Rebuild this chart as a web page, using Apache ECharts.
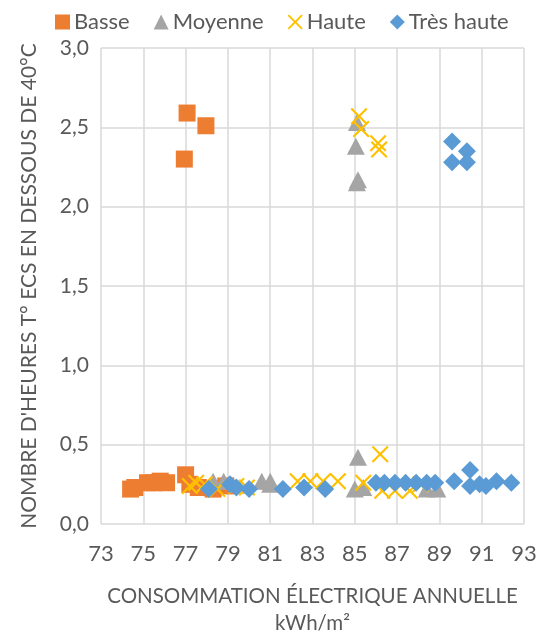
<!DOCTYPE html>
<html>
<head>
<meta charset="utf-8">
<script src="https://cdn.jsdelivr.net/npm/echarts@6/dist/echarts.min.js"></script>
<style>
  html, body { margin: 0; padding: 0; background: #ffffff; }
  #chart { width: 543px; height: 635px; }
</style>
</head>
<body>
<div id="chart"></div>
<script>
// Annual electricity use (kWh/m²) vs. hours of DHW below 40 °C, per occupancy level
const basse = [
  [77.07, 2.59], [77.96, 2.51], [76.94, 2.30],
  [74.40, 0.22], [74.60, 0.23], [75.20, 0.26], [75.50, 0.26], [75.80, 0.27],
  [76.10, 0.26], [77.00, 0.31], [77.20, 0.25], [77.60, 0.23], [78.30, 0.22],
  [78.90, 0.24]
];
const moyenne = [
  [85.10, 2.53], [85.05, 2.38], [85.15, 2.17], [85.10, 2.15], [85.15, 0.42],
  [78.30, 0.27], [78.80, 0.27], [80.60, 0.27], [81.00, 0.27], [81.00, 0.25],
  [85.00, 0.22], [85.40, 0.23], [88.40, 0.22], [88.90, 0.22]
];
const haute = [
  [85.20, 2.57], [85.30, 2.49], [86.10, 2.40], [86.15, 2.36], [86.20, 0.44],
  [77.20, 0.24], [77.50, 0.26], [77.90, 0.25], [78.50, 0.22], [79.40, 0.24],
  [79.90, 0.23], [82.30, 0.27], [82.90, 0.27], [83.50, 0.27], [84.20, 0.27],
  [85.40, 0.26], [86.30, 0.21], [86.90, 0.21], [87.60, 0.21], [88.10, 0.25]
];
const tresHaute = [
  [89.60, 2.41], [90.30, 2.35], [89.60, 2.28], [90.30, 2.28],
  [78.10, 0.22], [79.10, 0.25], [79.40, 0.23], [80.00, 0.22], [81.60, 0.22],
  [82.60, 0.23], [83.60, 0.22], [86.00, 0.26], [86.40, 0.26], [86.90, 0.26],
  [87.40, 0.26], [87.90, 0.26], [88.40, 0.26], [88.80, 0.26], [89.70, 0.27],
  [90.45, 0.34], [90.45, 0.24], [90.90, 0.25], [91.20, 0.24], [91.70, 0.27],
  [92.40, 0.26]
];
const xTicks = [73, 75, 77, 79, 81, 83, 85, 87, 89, 91, 93];

const TEXT = '#595959';
const GRID = '#d9d9d9';
const FONT = 'Lato';
const crossPath = 'path://M0,0.9L0.9,0L5,4.1L9.1,0L10,0.9L5.9,5L10,9.1L9.1,10L5,5.9L0.9,10L0,9.1L4.1,5Z';

const chart = echarts.init(document.getElementById('chart'), null, { renderer: 'canvas' });

chart.setOption({
  animation: false,
  backgroundColor: '#ffffff',
  textStyle: { fontFamily: FONT, color: TEXT },
  legend: {
    top: 6,
    left: 50,
    itemWidth: 15,
    itemHeight: 15,
    itemGap: 24,
    textStyle: { fontFamily: FONT, fontSize: 22, color: TEXT, padding: [0, 0, 0, -1] },
    data: [
      { name: 'Basse', icon: 'rect' },
      { name: 'Moyenne', icon: 'triangle' },
      { name: 'Haute', icon: crossPath },
      { name: 'Très haute', icon: 'diamond' }
    ]
  },
  grid: { left: 101, right: 19, top: 48, bottom: 111, outerBoundsMode: 'none', containLabel: false },
  xAxis: {
    type: 'value',
    min: 73,
    max: 93,
    interval: 1,
    name: 'CONSOMMATION ÉLECTRIQUE ANNUELLE\nkWh/m²',
    nameLocation: 'middle',
    nameGap: 59,
    nameTextStyle: { fontFamily: FONT, fontSize: 20.5, color: TEXT, lineHeight: 27, verticalAlign: 'top' },
    axisLine: { show: false },
    axisTick: { show: false },
    splitLine: { show: false },
    axisLabel: {
      margin: 19,
      fontFamily: FONT, fontSize: 22, color: TEXT,
      formatter: v => xTicks.indexOf(v) >= 0 ? String(v) : ''
    }
  },
  yAxis: {
    type: 'value',
    min: 0,
    max: 3,
    interval: 0.5,
    name: "NOMBRE D'HEURES T° ECS EN DESSOUS DE 40°C",
    nameLocation: 'middle',
    nameGap: 61,
    nameTextStyle: { fontFamily: FONT, fontSize: 21, color: TEXT },
    axisLine: { show: false },
    axisTick: { show: false },
    splitLine: { show: true, lineStyle: { color: GRID, width: 1.5 } },
    axisLabel: {
      margin: 12,
      fontFamily: FONT, fontSize: 21, color: TEXT,
      formatter: v => v.toFixed(1).replace('.', ',')
    }
  },
  series: [
    {
      name: 'Basse', type: 'scatter', symbol: 'rect', symbolSize: 17,
      itemStyle: { color: '#ED7D31', opacity: 1 },
      data: basse,
      markLine: {
        silent: true, symbol: 'none', label: { show: false },
        lineStyle: { color: GRID, width: 1.5, type: 'solid' },
        z: 0,
        data: xTicks.map(v => ({ xAxis: v }))
      }
    },
    {
      name: 'Moyenne', type: 'scatter', symbol: 'triangle', symbolSize: [18, 17],
      itemStyle: { color: '#A5A5A5', opacity: 1 },
      data: moyenne
    },
    {
      name: 'Haute', type: 'scatter', symbol: crossPath, symbolSize: 17,
      itemStyle: { color: '#FFC000', opacity: 1 },
      data: haute
    },
    {
      name: 'Très haute', type: 'scatter', symbol: 'diamond', symbolSize: 18,
      itemStyle: { color: '#5B9BD5', opacity: 1 },
      data: tresHaute
    }
  ]
});
</script>
</body>
</html>
